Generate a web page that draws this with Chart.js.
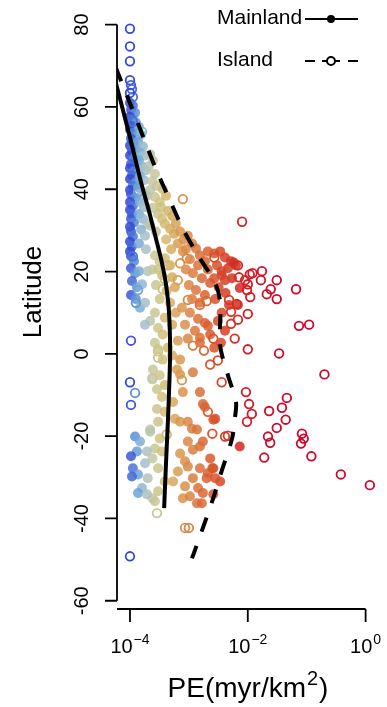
<!DOCTYPE html>
<html lang="en">
<head>
  <meta charset="UTF-8" />
  <title>PE by latitude</title>
  <script src="https://cdn.jsdelivr.net/npm/chart.js"></script>
  <style>
    body { margin: 0; background: #ffffff; }
    canvas { display: block; }
  </style>
</head>
<body>
  <canvas id="peChart" width="387" height="707"></canvas>

  <script>
    // [PE (myr/km2), latitude]
    const mainland = [
      [1.0e-4,61.0],[1.12e-4,60.3],[1.04e-4,59.3],[1.22e-4,58.6],[1.0e-4,57.6],[1.12e-4,56.9],[1.26e-4,56.2],[1.04e-4,55.4],
      [1.0e-4,54.5],[1.17e-4,53.8],[1.31e-4,53.0],[1.04e-4,52.3],[1.12e-4,51.4],[1.0e-4,50.6],[1.26e-4,49.9],[1.08e-4,49.2],
      [1.0e-4,48.2],[1.17e-4,47.5],[1.31e-4,46.8],[1.04e-4,46.1],[1.0e-4,45.1],[1.17e-4,44.4],[1.08e-4,43.4],[1.0e-4,42.5],
      [1.26e-4,41.7],[1.12e-4,40.8],[1.0e-4,39.8],[1.04e-4,38.8],[1.22e-4,37.9],[1.0e-4,36.9],[1.12e-4,36.0],[1.0e-4,35.0],
      [1.08e-4,34.0],[1.04e-4,32.8],[1.17e-4,31.9],[1.0e-4,30.9],[1.04e-4,29.7],[1.12e-4,28.5],[1.0e-4,27.3],[1.08e-4,26.1],
      [1.0e-4,24.9],[1.04e-4,23.7],[1.17e-4,22.5],
      [1.42e-4,55.2],[1.54e-4,53.3],[1.37e-4,51.6],[1.66e-4,50.4],[1.48e-4,48.9],[1.8e-4,48.2],[1.42e-4,47.0],[1.6e-4,45.6],
      [1.87e-4,44.6],[1.48e-4,43.2],[1.73e-4,42.2],[1.37e-4,40.5],[1.6e-4,39.3],[1.94e-4,38.4],[1.48e-4,36.9],[1.73e-4,35.7],
      [1.42e-4,34.0],[1.66e-4,32.8],[2.0e-4,31.6],[1.54e-4,30.2],[1.8e-4,28.7],[1.42e-4,26.8],[1.87e-4,25.4],
      [2.2e-4,48.5],[2.45e-4,47.0],[2.1e-4,45.6],[2.65e-4,43.7],[2.4e-4,42.0],[2.87e-4,40.8],[2.2e-4,39.8],[2.65e-4,38.1],
      [3.2e-4,36.9],[2.45e-4,35.5],[3.0e-4,34.0],[3.5e-4,32.8],[2.2e-4,31.1],[2.76e-4,29.7],
      [3.6e-4,40.0],[4.1e-4,38.4],[3.35e-4,35.7],[4.4e-4,34.7],[5.2e-4,33.5],[3.9e-4,31.6],[4.8e-4,30.4],[6.0e-4,31.6],
      [5.6e-4,29.2],[7.1e-4,29.7],[4.1e-4,27.8],[6.5e-4,26.8],[8.2e-4,27.8],[5.0e-4,25.4],[7.9e-4,24.9],
      [9.6e-4,28.7],[1.13e-3,26.8],[8.9e-4,25.4],[1.32e-3,25.6],[1.54e-3,23.9],[1.04e-3,23.0],[1.87e-3,22.5],[1.43e-3,21.5],
      [8.9e-4,20.5],[1.17e-3,19.6],[2.1e-3,20.5],[1.66e-3,18.4],[1.0e-3,16.7],[1.32e-3,15.5],[2.3e-3,17.2],[1.87e-3,14.3],
      [1.13e-3,13.3],[1.54e-3,12.4],
      [2.7e-3,24.4],[3.4e-3,24.9],[4.1e-3,23.4],[5.2e-3,22.5],[3.0e-3,21.5],[4.6e-3,20.8],[6.3e-3,21.5],[3.6e-3,19.1],
      [2.7e-3,18.4],[5.4e-3,18.4],[3.2e-3,16.2],[4.2e-3,14.8],[7.3e-3,16.0],[2.8e-3,13.3],[4.8e-3,11.9],[6.8e-3,11.9],
      [3.6e-3,10.0],[2.1e-3,24.9],[5.8e-3,22.2],[3.6e-3,20.1],[4.1e-3,17.9],
      [1.04e-4,20.8],[1.22e-4,19.6],[1.42e-4,20.1],[1.08e-4,17.7],[1.31e-4,16.2],[1.6e-4,16.9],[1.04e-4,14.3],[1.26e-4,13.3],
      [1.48e-4,11.2],[1.8e-4,12.4],[2.0e-4,20.1],[2.4e-4,20.5],
      [2.65e-4,23.9],[3.2e-4,22.5],[3.9e-4,23.2],[3.0e-4,20.5],[4.8e-4,21.5],[3.5e-4,19.1],[5.2e-4,18.6],[2.76e-4,16.7],
      [4.2e-4,15.3],[5.8e-4,16.2],[3.2e-4,13.3],[4.8e-4,12.4],[2.65e-4,10.0],[3.9e-4,8.8],[6.0e-4,10.0],[2.2e-4,8.0],
      [3.0e-4,6.3],[5.2e-4,7.1],[3.6e-4,4.7],[2.65e-4,2.7],[4.4e-4,1.5],[6.5e-4,3.2],[1.8e-4,7.1],
      [7.6e-4,11.2],[1.04e-3,10.0],[1.43e-3,8.5],[8.6e-4,7.1],[1.87e-3,7.5],[1.27e-3,5.6],[2.3e-3,4.7],[9.6e-4,3.7],
      [1.54e-3,2.7],[2.7e-3,1.5],[1.54e-3,3.9],[7.1e-4,-1.4],
      [3.1e-3,8.0],[4.1e-3,5.6],[3.5e-3,2.7],[2.1e-3,6.8],
      [3.0e-4,1.1],[3.6e-4,-1.4],[2.45e-4,-3.8],[3.2e-4,-5.2],[2.87e-4,-8.6],[3.5e-4,-10.5],[2.87e-4,-13.4],[3.9e-4,-14.1],
      [3.0e-4,-16.5],[2.2e-4,-18.4],[3.2e-4,-20.6],[2.65e-4,-23.0],[3.9e-4,-7.6],[2.4e-4,-6.2],
      [5.2e-4,-0.4],[6.3e-4,-3.8],[7.1e-4,-5.0],[7.9e-4,-9.3],[5.4e-4,-11.7],[5.8e-4,-15.8],[7.1e-4,-16.5],[9.6e-4,-16.5],
      [1.13e-3,-18.2],[7.1e-4,-24.2],[9.6e-4,-21.3],[1.17e-3,-23.3],
      [1.17e-3,-4.5],[1.54e-3,-9.3],[1.73e-3,-12.2],[1.37e-3,-18.4],[1.73e-3,-21.3],[2.3e-3,-25.4],[2.0e-3,-30.2],[2.6e-3,-34.1],
      [2.8e-3,-15.8],[3.4e-3,-31.0],[7.3e-3,-22.5],[1.87e-3,-12.9],[2.6e-3,-16.0],[2.6e-3,-27.8],
      [1.54e-3,-22.5],[2.1e-3,-29.0],[1.54e-3,-27.8],[1.17e-3,-30.2],[9.6e-4,-27.4],[7.9e-4,-35.1],[1.04e-3,-34.6],[1.37e-3,-36.3],
      [8.6e-4,-26.1],[6.5e-4,-28.6],[5.4e-4,-31.0],[8.6e-4,-32.2],[1.43e-3,-32.6],[1.73e-3,-33.8],[1.66e-3,-36.3],[2.5e-3,-27.8],
      [2.8e-3,-30.2],
      [1.22e-4,-20.1],[1.48e-4,-21.3],[1.31e-4,-23.7],[1.12e-4,-27.8],[1.37e-4,-29.3],[1.6e-4,-32.6],[1.94e-4,-23.7],[2.2e-4,-18.9],
      [2.4e-4,-25.4],[2.0e-4,-30.2],[2.4e-4,-35.1],[1.08e-4,-29.8],[1.37e-4,-33.8],[1.94e-4,-34.1],[3.0e-4,-33.4],[2.65e-4,-35.8],
      [1.8e-4,-26.6],[1.04e-4,-24.9],[3.0e-4,-27.8],[3.9e-4,-31.0],[3.5e-4,-23.7]
    ];

    const island = [
      [1.0e-4,79.0],[1.0e-4,74.7],[1.0e-4,71.1],[1.0e-4,66.5],[1.04e-4,65.3],[1.08e-4,64.3],[1.12e-4,62.4],[1.0e-4,63.4],
      [1.6e-4,54.0],[1.12e-4,56.4],[1.37e-4,39.3],[1.8e-4,35.7],
      [1.12e-4,23.7],[1.37e-4,15.5],[1.26e-4,12.4],[1.04e-4,3.2],[1.0e-4,-6.9],[1.22e-4,-9.5],[1.04e-4,-12.4],[1.0e-4,-49.2],
      [2.4e-4,-5.9],[3.0e-4,-0.9],[3.0e-4,0.6],
      [4.2e-4,-19.6],[2.87e-4,-38.7],[4.4e-4,21.5],[3.9e-4,18.1],[3.6e-4,15.7],
      [7.1e-4,22.0],[6.5e-4,17.9],[7.6e-4,-6.4],[8.6e-4,-42.3],[1.0e-3,-42.3],[7.9e-4,37.6],[9.6e-4,13.1],[9.2e-4,23.2],
      [1.17e-3,2.0],[1.8e-3,0.8],[1.54e-3,11.9],[2.0e-3,12.8],[2.3e-3,-2.6],[3.1e-3,-1.6],[3.6e-3,-6.9],[2.1e-3,-14.1],
      [2.5e-3,-19.4],[4.1e-3,-20.1],[4.6e-3,-19.9],[2.6e-3,3.7],[2.7e-3,23.4],[4.8e-3,13.1],[6.5e-3,12.1],[6.0e-3,3.7],
      [8.0e-3,32.1],[6.8e-3,21.5],[7.1e-3,18.6],[1.08e-2,19.3],[1.2e-2,19.6],[1.74e-2,20.1],[1.67e-2,17.9],[3.1e-2,17.9],
      [2.45e-2,15.7],[2.1e-2,14.5],[3.1e-2,13.3],[1.1e-2,13.8],[9.7e-3,15.5],[1.0e-2,16.9],[9.0e-3,17.9],[5.2e-3,10.2],
      [6.8e-3,8.3],[1.0e-2,9.7],[5.2e-3,7.3],[1.0e-2,1.1],[3.4e-2,0.1],[7.4e-2,6.8],[0.11,7.1],[6.6e-2,15.7],
      [0.2,-5.0],[9.3e-3,-9.3],[1.05e-2,-12.2],[1.17e-2,-14.6],[9.7e-3,-16.5],[2.3e-2,-13.9],[3.8e-2,-13.1],[4.6e-2,-10.7],
      [4.4e-2,-16.0],[3.1e-2,-18.0],[2.2e-2,-20.1],[2.4e-2,-21.6],[8.3e-2,-19.4],[8.9e-2,-20.6],[8.0e-2,-21.8],[1.9e-2,-25.2],
      [0.12,-24.9],[0.38,-29.3],[1.18,-31.9]
    ];

    // fitted curves, PE as a function of latitude
    const mainlandFit = [
      [4.9e-5,69.6],[7.0e-5,61.2],[1.04e-4,51.6],[1.54e-4,41.7],[2.1e-4,34.7],[2.76e-4,28.0],[3.5e-4,22.0],[4.1e-4,16.7],
      [4.6e-4,10.0],[4.8e-4,0.3],[4.6e-4,-9.3],[4.4e-4,-16.5],[4.1e-4,-26.1],[3.8e-4,-37.5]
    ];
    const islandFit = [
      [4.4e-5,73.7],[9.2e-5,62.2],[1.8e-4,51.6],[2.76e-4,44.9],[4.8e-4,37.2],[7.9e-4,30.4],[1.43e-3,23.9],[2.8e-3,17.2],
      [3.4e-3,12.4],[3.4e-3,2.0],[4.6e-3,-5.2],[6.3e-3,-11.7],[6.0e-3,-16.0],[5.4e-3,-20.6],[3.6e-3,-28.5],[2.6e-3,-35.0],
      [1.73e-3,-42.3],[1.13e-3,-49.7]
    ];

    const peTicks = [1e-4, 1e-2, 1];
    const peTickExp = ['\u22124', '\u22122', '0'];
    const latTicks = [80, 60, 40, 20, 0, -20, -40, -60];

    // colour ramp on log10(PE)
    const colorStops = [
      [-4.00, [52, 72, 214]],
      [-3.93, [84, 136, 216]],
      [-3.85, [118, 170, 214]],
      [-3.75, [164, 192, 204]],
      [-3.62, [196, 200, 160]],
      [-3.48, [208, 196, 130]],
      [-3.30, [214, 174, 96]],
      [-3.10, [218, 146, 76]],
      [-2.85, [218, 114, 58]],
      [-2.60, [216, 86, 44]],
      [-2.30, [213, 54, 36]],
      [-2.00, [209, 28, 38]],
      [-1.50, [205, 6, 42]]
    ];

    function peColor(pe, a) {
      const t = Math.log10(pe);
      let i = 0;
      while (i < colorStops.length - 2 && t > colorStops[i + 1][0]) i++;
      const [t0, c0] = colorStops[i];
      const [t1, c1] = colorStops[i + 1];
      const f = Math.min(1, Math.max(0, (t - t0) / (t1 - t0)));
      const c = c0.map((v, k) => Math.round(v + (c1[k] - v) * f));
      return `rgba(${c[0]},${c[1]},${c[2]},${a})`;
    }

    const toXY = arr => arr.map(([pe, lat]) => ({ x: pe, y: lat }));
    const FONT = '"Liberation Sans", Arial, Helvetica, sans-serif';

    // R-like axes, titles and legend
    const rStyle = {
      id: 'rStyle',
      afterDraw(chart) {
        const { ctx, chartArea } = chart;
        const xs = chart.scales.x, ys = chart.scales.y;
        ctx.save();
        ctx.strokeStyle = '#000';
        ctx.fillStyle = '#000';
        ctx.lineWidth = 1.8;
        ctx.setLineDash([]);

        // y axis
        const axX = chartArea.left;
        ctx.beginPath();
        ctx.moveTo(axX, ys.getPixelForValue(latTicks[0]));
        ctx.lineTo(axX, ys.getPixelForValue(latTicks[latTicks.length - 1]));
        latTicks.forEach(v => {
          const p = ys.getPixelForValue(v);
          ctx.moveTo(axX - 12, p);
          ctx.lineTo(axX, p);
        });
        ctx.stroke();
        ctx.font = `20px ${FONT}`;
        ctx.textAlign = 'center';
        ctx.textBaseline = 'alphabetic';
        latTicks.forEach(v => {
          ctx.save();
          ctx.translate(axX - 29, ys.getPixelForValue(v));
          ctx.rotate(-Math.PI / 2);
          ctx.fillText(String(v), 0, 0);
          ctx.restore();
        });

        // x axis
        const axY = chartArea.bottom;
        ctx.beginPath();
        ctx.moveTo(chartArea.left, axY);
        ctx.lineTo(xs.getPixelForValue(peTicks[peTicks.length - 1]), axY);
        peTicks.forEach(v => {
          const p = xs.getPixelForValue(v);
          ctx.moveTo(p, axY);
          ctx.lineTo(p, axY + 13);
        });
        ctx.stroke();
        ctx.textAlign = 'left';
        peTicks.forEach((v, i) => {
          const p = xs.getPixelForValue(v);
          ctx.font = `20px ${FONT}`;
          const w1 = ctx.measureText('10').width;
          ctx.font = `14px ${FONT}`;
          const w2 = ctx.measureText(peTickExp[i]).width;
          const left = p - (w1 + w2 + 1) / 2;
          ctx.font = `20px ${FONT}`;
          ctx.fillText('10', left, axY + 44);
          ctx.font = `14px ${FONT}`;
          ctx.fillText(peTickExp[i], left + w1 + 1, axY + 35);
        });

        // x title: PE(myr/km^2)
        ctx.font = `28px ${FONT}`;
        const a = 'PE(myr/km', b = ')';
        const wa = ctx.measureText(a).width, wb = ctx.measureText(b).width;
        ctx.font = `20px ${FONT}`;
        const ws = ctx.measureText('2').width;
        let tx = (chartArea.left + chartArea.right) / 2 + 2 - (wa + ws + wb + 2) / 2;
        ctx.font = `28px ${FONT}`;
        ctx.fillText(a, tx, 697);
        ctx.font = `20px ${FONT}`;
        ctx.fillText('2', tx + wa + 1, 685);
        ctx.font = `28px ${FONT}`;
        ctx.fillText(b, tx + wa + ws + 2, 697);

        // y title
        ctx.save();
        ctx.font = `26px ${FONT}`;
        ctx.textAlign = 'center';
        ctx.translate(41, 292);
        ctx.rotate(-Math.PI / 2);
        ctx.fillText('Latitude', 0, 0);
        ctx.restore();

        // legend
        ctx.font = `21px ${FONT}`;
        ctx.textAlign = 'left';
        ctx.fillText('Mainland', 217, 24);
        ctx.fillText('Island', 217, 66);
        ctx.lineWidth = 2;
        ctx.beginPath();
        ctx.moveTo(305, 19);
        ctx.lineTo(358, 19);
        ctx.stroke();
        ctx.beginPath();
        ctx.arc(331, 19, 4, 0, 2 * Math.PI);
        ctx.fill();
        ctx.setLineDash([10, 7, 6, 6, 6, 8, 10, 60]);
        ctx.beginPath();
        ctx.moveTo(305, 61);
        ctx.lineTo(358, 61);
        ctx.stroke();
        ctx.setLineDash([]);
        ctx.beginPath();
        ctx.arc(331, 61, 4, 0, 2 * Math.PI);
        ctx.stroke();
        ctx.restore();
      }
    };

    new Chart(document.getElementById('peChart'), {
      type: 'scatter',
      data: {
        datasets: [
          {
            label: 'Island fit',
            data: toXY(islandFit),
            showLine: true,
            borderColor: '#000',
            borderWidth: 4,
            borderDash: [15, 15],
            borderDashOffset: 12,
            pointRadius: 0,
            tension: 0.3,
            order: 1
          },
          {
            label: 'Mainland fit',
            data: toXY(mainlandFit),
            showLine: true,
            borderColor: '#000',
            borderWidth: 4,
            pointRadius: 0,
            tension: 0.3,
            order: 2
          },
          {
            label: 'Island',
            data: toXY(island),
            pointRadius: 4.3,
            pointBorderWidth: 1.8,
            pointBackgroundColor: 'rgba(0,0,0,0)',
            pointBorderColor: c => c.raw ? peColor(c.raw.x, 1) : '#000',
            order: 3
          },
          {
            label: 'Mainland',
            data: toXY(mainland),
            pointRadius: 5,
            pointBorderWidth: 0,
            pointBackgroundColor: c => c.raw ? peColor(c.raw.x, 0.85) : '#000',
            order: 4
          }
        ]
      },
      options: {
        responsive: false,
        animation: false,
        devicePixelRatio: 1,
        events: [],
        layout: { padding: { left: 117, right: 12, top: 0, bottom: 98 } },
        plugins: { legend: { display: false }, tooltip: { enabled: false } },
        scales: {
          x: { type: 'logarithmic', min: 6.02e-5, max: 1.444, bounds: 'data', display: false },
          y: { type: 'linear', min: -62, max: 84.5, bounds: 'data', display: false }
        }
      },
      plugins: [rStyle]
    });
  </script>
</body>
</html>
